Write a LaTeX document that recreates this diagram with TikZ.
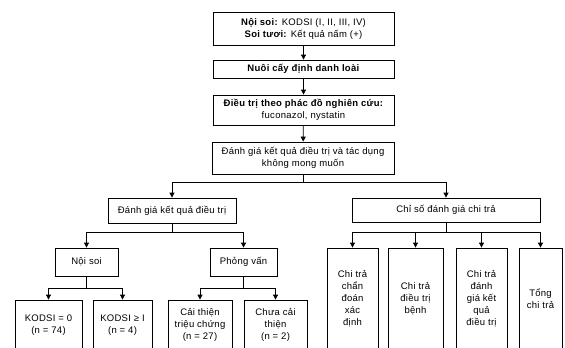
\documentclass[tikz,border=0pt]{standalone}
\usepackage{fontspec}
\setmainfont{Liberation Sans}[LetterSpace=3]
\usetikzlibrary{arrows.meta}
\begin{document}
\begin{tikzpicture}[x=1pt,y=-1pt,
  box/.style={draw=black,line width=0.8pt,inner sep=0pt,align=center,font=\fontsize{9.5}{12}\selectfont},
  ln/.style={line width=0.8pt,draw=black},
  arr/.style={ln,-{Triangle[length=5pt,width=5pt]}}]
\useasboundingbox (0,0) rectangle (565,348);
% top chain
\node[box,minimum width=181pt,minimum height=33pt] (b1) at (303.5,28.5) {\textbf{Nội soi:} KODSI (I, II, III, IV)\\\textbf{Soi tươi:} Kết quả nấm (+)};
\node[box,minimum width=181pt,minimum height=18pt] (b2) at (303.5,69) {\textbf{Nuôi cấy định danh loài}};
\node[box,minimum width=181pt,minimum height=30pt] (b3) at (303.5,110) {\textbf{Điều trị theo phác đồ nghiên cứu:}\\fuconazol, nystatin};
\node[box,minimum width=182pt,minimum height=32pt] (b4) at (303,158) {Đánh giá kết quả điều trị và tác dụng\\không mong muốn};
% second level
\node[box,minimum width=128pt,minimum height=25pt] (e1) at (172,210.5) {Đánh giá kết quả điều trị};
\node[box,minimum width=188pt,minimum height=24pt] (e2) at (446,210) {Chỉ số đánh giá chi trả};
% third level left
\node[box,minimum width=63pt,minimum height=28pt] (n1) at (86.5,262) {Nội soi};
\node[box,minimum width=67pt,minimum height=28pt] (n2) at (243.5,262) {Phỏng vấn};
% bottom left
\node[box,minimum width=67pt,minimum height=50pt] (k1) at (48.5,325) {KODSI = 0\\(n = 74)};
\node[box,minimum width=59pt,minimum height=50pt] (k2) at (122.5,325) {KODSI ≥ I\\(n = 4)};
\node[box,minimum width=64pt,minimum height=50pt] (c1) at (200,325) {Cải thiện\\triệu chứng\\(n = 27)};
\node[box,minimum width=63pt,minimum height=50pt] (c2) at (275.5,325) {Chưa cải\\thiện\\(n = 2)};
% right boxes
\node[box,minimum width=51pt,minimum height=102pt] (r1) at (352.5,299) {Chi trả\\chẩn\\đoán\\xác\\định};
\node[box,minimum width=55pt,minimum height=102pt] (r2) at (415.5,299) {Chi trả\\điều trị\\bệnh};
\node[box,minimum width=51pt,minimum height=102pt] (r3) at (481.5,299) {Chi trả\\đánh\\giá kết\\quả\\điều trị};
\node[box,minimum width=43pt,minimum height=102pt] (r4) at (540.5,299) {Tổng\\chi trả};
% junctions
\coordinate (j1) at (303,182);
\coordinate (j2) at (172,232);
\coordinate (j3) at (446,232);
\coordinate (j4) at (86.5,288);
\coordinate (j5) at (243.5,288);
% connectors
\draw[arr] (b1) -- (b2);
\draw[arr] (b2) -- (b3);
\draw[arr] (b3) -- (b4);
\draw[ln] (b4) -- (j1);
\draw[arr] (j1) -| (e1);
\draw[arr] (j1) -| (e2);
\draw[ln] (e1) -- (j2);
\draw[arr] (j2) -| (n1);
\draw[arr] (j2) -| (n2);
\draw[ln] (e2) -- (j3);
\draw[arr] (j3) -| (r1);
\draw[arr] (j3) -| (r2);
\draw[arr] (j3) -| (r3);
\draw[arr] (j3) -| (r4);
\draw[ln] (n1) -- (j4);
\draw[arr] (j4) -| (k1);
\draw[arr] (j4) -| (k2);
\draw[ln] (n2) -- (j5);
\draw[arr] (j5) -| (c1);
\draw[arr] (j5) -| (c2);
\end{tikzpicture}
\end{document}
